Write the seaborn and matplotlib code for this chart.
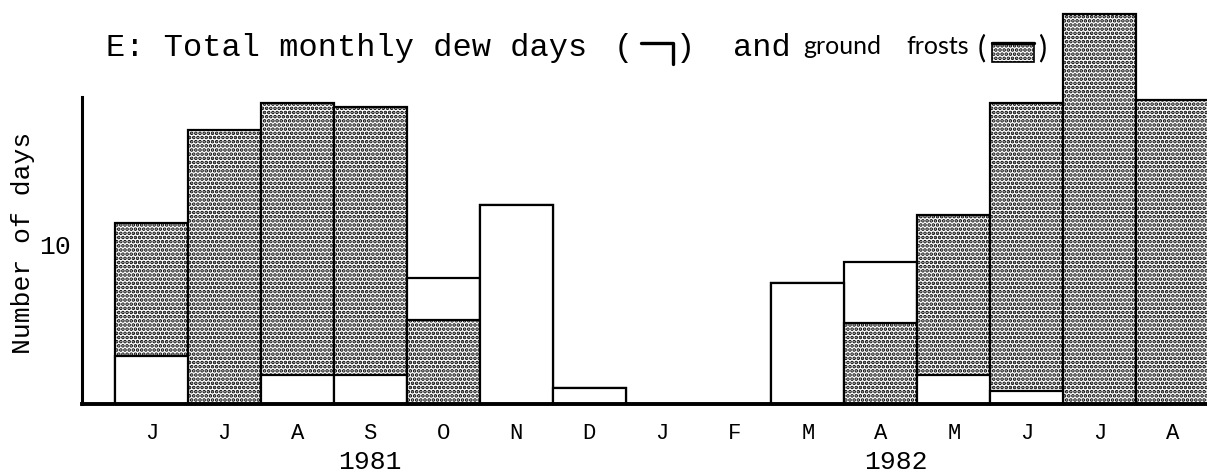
import matplotlib
matplotlib.use("Agg")
import matplotlib.pyplot as plt
from matplotlib.patches import Rectangle
from matplotlib.lines import Line2D
import matplotlib.transforms as mtransforms
import seaborn as sns
import pandas as pd

# Monthly record, June 1981 - August 1982
periods = ["1981-06", "1981-07", "1981-08", "1981-09", "1981-10", "1981-11",
           "1981-12", "1982-01", "1982-02", "1982-03", "1982-04", "1982-05",
           "1982-06", "1982-07", "1982-08"]
month_labels = ["J", "J", "A", "S", "O", "N", "D", "J", "F", "M", "A", "M",
                "J", "J", "A"]
dew_days = [3.0, 0.0, 1.8, 1.8, 2.6, 12.5, 1.0, 0.0, 0.0, 7.6, 3.8, 1.8,
            0.8, 0.0, 0.0]
frost_days = [8.4, 17.2, 17.1, 16.9, 5.3, 0.0, 0.0, 0.0, 0.0, 0.0, 5.1, 10.1,
              18.1, 24.5, 19.1]
# whether the ground-frost block sits above the dew block in each column
frost_on_top = [True, True, True, True, False, True, True, True, True, True,
                False, True, True, True, True]
year_labels = ["1981", "1982"]
year_positions = [3.0, 10.2]
y_ticks = [10]

STIPPLE = "...."
MONO = "Liberation Mono"
HAND = "Lato"

sns.set_theme(style="white")
plt.rcParams["font.family"] = [MONO, "DejaVu Sans"]
plt.rcParams["hatch.linewidth"] = 1.8
plt.rcParams["hatch.color"] = "black"
for key in ["text.color", "axes.labelcolor", "xtick.color", "ytick.color"]:
    plt.rcParams[key] = "black"

# segment heights and fill styles
total = [d + f for d, f in zip(dew_days, frost_days)]
lower = [d if top else f for d, f, top in zip(dew_days, frost_days, frost_on_top)]
lower_hatch = ["" if top else STIPPLE for top in frost_on_top]
upper_hatch = []
for d, f, top in zip(dew_days, frost_days, frost_on_top):
    if top:
        upper_hatch.append(STIPPLE if f > 0 else "")
    else:
        upper_hatch.append("" if d > 0 else STIPPLE)

df = pd.DataFrame({"period": periods, "total": total, "lower": lower})

fig = plt.figure(figsize=(12.07, 4.76), dpi=100)
ax = fig.add_axes([82 / 1207, 72 / 476, 1 - 82 / 1207, 404 / 476])

bar_kw = dict(order=periods, width=1.0, color="white", edgecolor="black",
              linewidth=1.6, errorbar=None, saturation=1, ax=ax)
sns.barplot(data=df, x="period", y="total", hatch=upper_hatch, **bar_kw)
sns.barplot(data=df, x="period", y="lower", hatch=lower_hatch, **bar_kw)
for p in ax.patches:
    p.set_clip_on(False)

ax.set_xlim(-0.95, 14.47)
ax.set_ylim(0, 25.4)
ax.set_xlabel("")
ax.set_ylabel("")

ax.set_xticks(range(len(periods)))
ax.set_xticklabels(month_labels, fontsize=16, family=MONO)
ax.set_yticks(y_ticks)
ax.set_yticklabels([str(v) for v in y_ticks], fontsize=19, family=MONO)
ax.tick_params(axis="x", length=0, pad=14)
ax.tick_params(axis="y", length=0, pad=8)

for side in ["top", "right"]:
    ax.spines[side].set_visible(False)
ax.spines["left"].set_linewidth(2.2)
ax.spines["left"].set_bounds(0, 19.3)
ax.spines["bottom"].set_linewidth(2.8)
ax.spines["left"].set_color("black")
ax.spines["bottom"].set_color("black")

# year captions under the month letters
trans = mtransforms.blended_transform_factory(ax.transData, ax.transAxes)
for lab, xpos in zip(year_labels, year_positions):
    ax.text(xpos, -58 / 404, lab, transform=trans, ha="center", va="center",
            fontsize=19, family=MONO)

# axis caption
fig.text(23 / 1207, 1 - 243 / 476, "Number of days", rotation=90,
         ha="center", va="center", fontsize=19, family=MONO)

# title with inline keys
ty = 1 - 48 / 476
def fx(px):
    return px / 1207
def fy(py):
    return 1 - py / 476

fig.text(fx(106), ty, "E: Total monthly dew days", ha="left", va="center",
         fontsize=23, family=MONO)
fig.text(fx(614), ty, "(", ha="left", va="center", fontsize=23, family=MONO)
fig.add_artist(Line2D([fx(641), fx(673), fx(673)], [fy(43), fy(43), fy(64)],
                      transform=fig.transFigure, color="black", lw=2.4))
fig.text(fx(676), ty, ")", ha="left", va="center", fontsize=23, family=MONO)
fig.text(fx(733), ty, "and", ha="left", va="center", fontsize=23, family=MONO)
fig.text(fx(803), ty + 0.004, "ground", ha="left", va="center", fontsize=18,
         family=HAND)
fig.text(fx(906), ty + 0.004, "frosts", ha="left", va="center", fontsize=18,
         family=HAND)
fig.text(fx(978), ty, "(", ha="left", va="center", fontsize=22, family=HAND)
fig.add_artist(Rectangle((fx(992), fy(62)), fx(1034) - fx(992), fy(43) - fy(62),
                         transform=fig.transFigure, facecolor="white",
                         edgecolor="black", hatch="....", lw=1.2))
fig.add_artist(Line2D([fx(992), fx(1034)], [fy(43), fy(43)],
                      transform=fig.transFigure, color="black", lw=2.4))
fig.text(fx(1038), ty, ")", ha="left", va="center", fontsize=22, family=HAND)

fig.savefig("out.png", dpi=100)
